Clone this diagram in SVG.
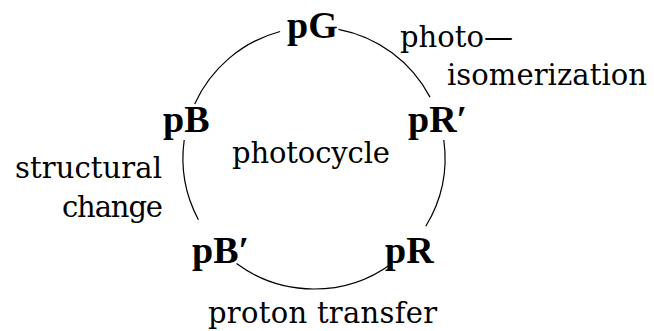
<svg xmlns="http://www.w3.org/2000/svg" width="654" height="331" viewBox="0 0 654 331">
<style>
.n{font-family:"Liberation Serif","DejaVu Serif",serif;font-weight:bold;font-size:38px;fill:#000}
.t{font-family:"DejaVu Serif",serif;font-weight:normal;font-size:29px;fill:#000}
.c{fill:none;stroke:#000;stroke-width:1.2}
</style>
<rect width="654" height="331" fill="#fff"/>
<g id="connectors">
<path class="c" d="M 280.1 31.5 A 131 131 0 0 0 194.7 103.9"/>
<path class="c" d="M 184.2 140 A 131 131 0 0 0 198.4 219.7"/>
<path class="c" d="M 236.5 263.6 A 131 131 0 0 0 391.2 263.9"/>
<path class="c" d="M 425.8 226.2 A 131 131 0 0 0 443.8 140"/>
<path class="c" d="M 430 97.1 A 131 131 0 0 0 338.5 29.3"/>
</g>
<g id="pG"><text class="n" x="287" y="38">pG</text></g>
<g id="pB"><text class="n" x="163" y="132">pB</text></g>
<g id="pRprime"><text class="n" x="408" y="132">pR′</text></g>
<g id="pBprime"><text class="n" x="192" y="263">pB′</text></g>
<g id="pR"><text class="n" x="385" y="263">pR</text></g>
<g id="labels">
<text class="t" x="400" y="47" textLength="113" lengthAdjust="spacing">photo—</text>
<text class="t" x="447" y="85" textLength="200" lengthAdjust="spacing">isomerization</text>
<text class="t" x="232" y="163" textLength="158" lengthAdjust="spacing">photocycle</text>
<text class="t" x="15" y="178" textLength="147" lengthAdjust="spacing">structural</text>
<text class="t" x="62" y="217" textLength="101" lengthAdjust="spacing">change</text>
<text class="t" x="208" y="323" textLength="229" lengthAdjust="spacing">proton transfer</text>
</g>
</svg>
